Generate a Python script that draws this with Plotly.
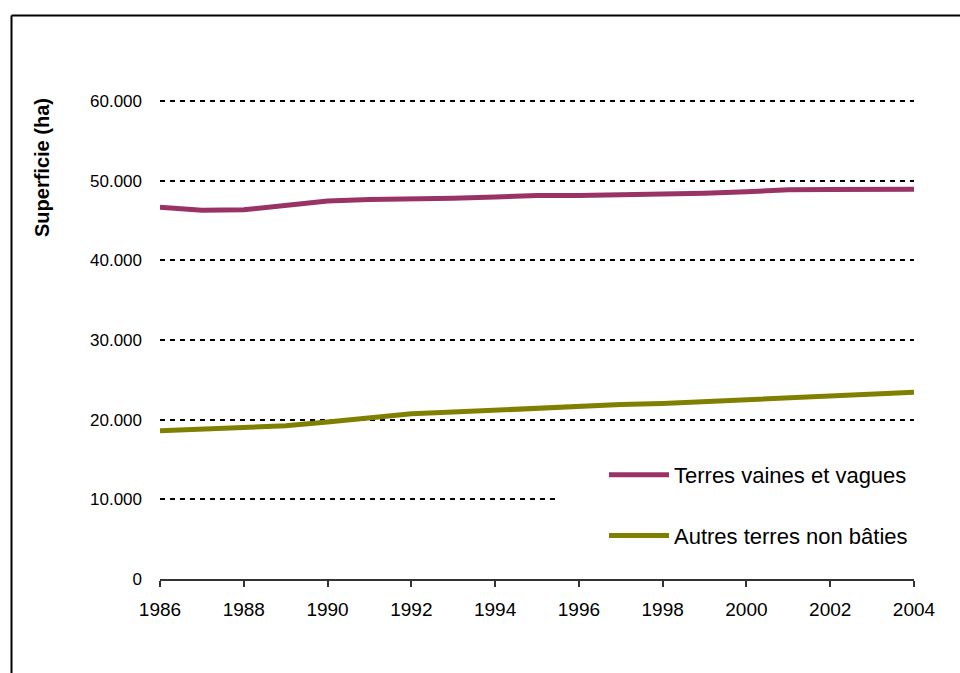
import plotly.graph_objects as go

years = list(range(1986, 2005))
terres_vaines = [46650, 46300, 46350, 46900, 47450, 47630, 47680, 47800, 47950, 48150,
                 48150, 48200, 48280, 48420, 48600, 48850, 48880, 48900, 48920]
autres_terres = [18600, 18780, 18900, 19230, 19700, 20300, 20750, 20950, 21200, 21420,
                 21700, 21900, 22040, 22250, 22550, 22710, 23000, 23170, 23430]
series_names = ["Terres vaines et vagues", "Autres terres non bâties"]
series_colors = ["#993366", "#808000"]
y_tickvals = [0, 10000, 20000, 30000, 40000, 50000, 60000]
y_ticktext = ["0", "10.000", "20.000", "30.000", "40.000", "50.000", "60.000"]
x_tickvals = list(range(1986, 2005, 2))
y_title = "Superficie (ha)"

W, H = 960, 673
L, R, T, B = 160, 46, 99, 94
pw, ph = W - L - R, H - T - B


def px_x(p):
    return (p - L) / pw


def px_y(p):
    return (H - B - p) / ph


fig = go.Figure()
for name, vals, col in zip(series_names, [terres_vaines, autres_terres], series_colors):
    fig.add_trace(go.Scatter(x=years, y=vals, mode="lines", name=name, legendgroup=name,
                             line=dict(color=col, width=5), hoverinfo="skip"))

font = "Liberation Sans, Arial, sans-serif"
fig.update_layout(
    width=W, height=H,
    margin=dict(l=L, r=R, t=T, b=B),
    paper_bgcolor="white", plot_bgcolor="white",
    showlegend=True,
    legend=dict(x=px_x(604), y=px_y(454), xanchor="left", yanchor="top",
                bgcolor="rgba(0,0,0,0)", font=dict(family=font, size=22, color="black"),
                traceorder="grouped", tracegroupgap=29, itemwidth=60),
    xaxis=dict(range=[1986, 2004], tickvals=x_tickvals, ticks="outside", ticklen=6,
               tickcolor="#333", tickwidth=1.5, showline=True, linecolor="#333", linewidth=1.5,
               showgrid=False, zeroline=False, ticklabelstandoff=6,
               tickfont=dict(family=font, size=19, color="black")),
    yaxis=dict(range=[0, 60250], tickvals=y_tickvals, ticktext=y_ticktext, showline=False,
               zeroline=False, showgrid=True, gridcolor="black", gridwidth=1.5,
               griddash="5px,5px", ticks="", ticklabelstandoff=17,
               tickfont=dict(family=font, size=17, color="black")),
    shapes=[
        dict(type="rect", xref="paper", yref="paper", x0=px_x(556), x1=px_x(940),
             y0=px_y(560), y1=px_y(450), fillcolor="white", line=dict(width=0), layer="above"),
        dict(type="line", xref="paper", yref="paper", x0=px_x(11.5), x1=px_x(965),
             y0=px_y(15.5), y1=px_y(15.5), line=dict(color="black", width=2)),
        dict(type="line", xref="paper", yref="paper", x0=px_x(11.5), x1=px_x(11.5),
             y0=px_y(15.5), y1=px_y(680), line=dict(color="black", width=2)),
    ],
    annotations=[
        dict(text="<b>" + y_title + "</b>", xref="paper", yref="paper", x=px_x(42), y=px_y(168),
             textangle=-90, showarrow=False, font=dict(family=font, size=20, color="black"),
             xanchor="center", yanchor="middle"),
    ],
)

fig.write_html("out.html")
